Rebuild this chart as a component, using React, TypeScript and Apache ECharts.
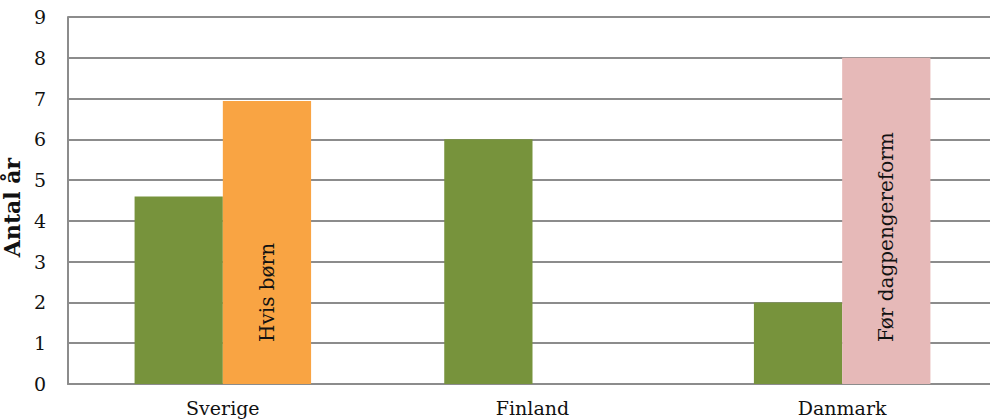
import React, { useEffect, useRef } from "react";
import * as echarts from "echarts";

const categories = ["Sverige", "Finland", "Danmark"];
const baseValues = [4.6, 6, 2];
const altValues: (number | string)[] = [6.94, "-", 8];
const altLabels = ["Hvis børn", "", "Før dagpengereform"];
const altColors = ["#F9A443", "#E6B9B8", "#E6B9B8"];
const yTicks = [0, 1, 2, 3, 4, 5, 6, 7, 8, 9];

export default function App() {
  const ref = useRef<HTMLDivElement>(null);
  useEffect(() => {
    if (!ref.current) return;
    const chart = echarts.init(ref.current, null, { renderer: "svg" });
    const font = "'DejaVu Serif', serif";
    chart.setOption({
      animation: false,
      backgroundColor: "#ffffff",
      grid: { left: 68, right: 0, top: 17, bottom: 35, containLabel: false, outerBoundsMode: "none" },
      xAxis: {
        type: "category",
        data: categories,
        axisTick: { show: false },
        axisLine: { show: true, lineStyle: { color: "#8c8c8c", width: 2 } },
        axisLabel: { color: "#111", fontFamily: font, fontSize: 19, margin: 14 },
      },
      yAxis: {
        type: "value",
        min: yTicks[0],
        max: yTicks[yTicks.length - 1],
        interval: 1,
        name: "Antal år",
        nameLocation: "middle",
        nameGap: 33,
        nameTextStyle: {
          color: "#111",
          fontFamily: font,
          fontSize: 22,
          fontWeight: "bold",
          padding: [0, 14, 0, 0],
        },
        axisLine: { show: true, lineStyle: { color: "#8c8c8c", width: 2 } },
        axisTick: { show: false },
        axisLabel: { color: "#111", fontFamily: font, fontSize: 19, margin: 22 },
        splitLine: { show: true, lineStyle: { color: "#8c8c8c", width: 2 } },
      },
      series: [
        {
          type: "bar",
          data: baseValues,
          barGap: "0%",
          barCategoryGap: "43%",
          itemStyle: { color: "#77933C" },
        },
        {
          type: "bar",
          data: altValues.map((v, i) => ({ value: v, itemStyle: { color: altColors[i] } })),
          barGap: "0%",
          barCategoryGap: "43%",
          label: {
            show: true,
            position: "insideBottom",
            distance: 42,
            rotate: 90,
            align: "left",
            verticalAlign: "middle",
            color: "#111",
            fontFamily: font,
            fontSize: 20,
            formatter: (p: any) => altLabels[p.dataIndex] || "",
          },
        },
      ],
    });
    return () => chart.dispose();
  }, []);
  return (
    <div
      style={{ position: "absolute", left: 0, top: 0, width: 990, height: 419, overflow: "hidden" }}
    >
      <div ref={ref} style={{ width: 997, height: 419 }} />
    </div>
  );
}
